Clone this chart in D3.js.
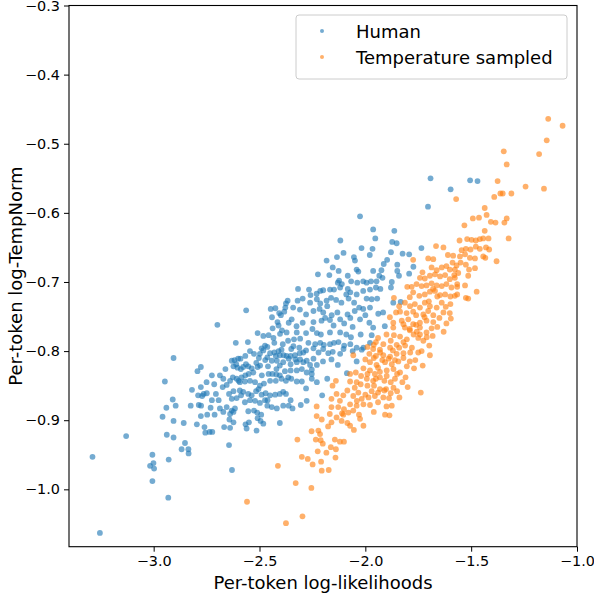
<html>
<head>
<meta charset="utf-8">
<script src="https://d3js.org/d3.v7.min.js"></script>
<style>
  body { margin: 0; background: #fff; }
  text { font-family: "DejaVu Sans", sans-serif; }
</style>
</head>
<body>
<script type="text/javascript">
    ////////////////// data //////////////////
    // [per-token log-likelihood, per-token log-TempNorm]
    var human = [
        [-2.906,-0.810],[-2.947,-0.844],[-2.910,-0.870],[-2.940,-0.882],[-2.896,-0.879],[-2.958,-0.895],
        [-2.906,-0.901],[-2.938,-0.921],[-2.906,-0.925],[-3.130,-0.923],[-3.289,-0.953],[-3.006,-0.950],
        [-3.001,-0.962],[-3.017,-0.966],[-2.998,-0.970],[-2.929,-0.957],[-3.006,-0.988],[-2.931,-1.012],
        [-3.254,-1.063],[-2.630,-0.972],
        [-2.563,-0.741],[-2.699,-0.762],[-2.447,-0.739],[-2.425,-0.738],[-2.407,-0.745],[-2.383,-0.743],
        [-2.367,-0.727],[-2.375,-0.731],[-2.378,-0.737],[-2.441,-0.751],[-2.415,-0.758],[-2.399,-0.748],
        [-2.438,-0.767],[-2.410,-0.763],[-2.362,-0.759],[-2.509,-0.774],[-2.482,-0.778],[-2.457,-0.777],
        [-2.434,-0.781],[-2.403,-0.775],[-2.394,-0.770],[-2.372,-0.773],[-2.365,-0.785],[-2.612,-0.788],
        [-2.555,-0.787],[-2.490,-0.796],[-2.474,-0.792],[-2.463,-0.794],[-2.482,-0.799],[-2.498,-0.804],
        [-2.526,-0.804],[-2.545,-0.800],[-2.567,-0.807],[-2.590,-0.811],[-2.601,-0.811],[-2.618,-0.813],
        [-2.631,-0.814],[-2.450,-0.803],[-2.430,-0.802],[-2.410,-0.800],[-2.396,-0.798],[-2.404,-0.806],
        [-2.423,-0.807],[-2.386,-0.806],[-2.372,-0.807],[-2.362,-0.811],[-2.388,-0.816],[-2.404,-0.821],
        [-2.418,-0.814],[-2.442,-0.814],[-2.463,-0.809],[-2.473,-0.813],[-2.503,-0.810],[-2.515,-0.817],
        [-2.497,-0.821],[-2.509,-0.823],[-2.537,-0.825],[-2.553,-0.822],[-2.564,-0.819],[-2.577,-0.823],
        [-2.588,-0.826],[-2.604,-0.824],[-2.610,-0.819],[-2.623,-0.822],[-2.661,-0.826],[-2.687,-0.835],
        [-2.725,-0.835],[-2.777,-0.823],[-2.793,-0.829],[-2.529,-0.831],[-2.551,-0.833],[-2.567,-0.835],
        [-2.585,-0.838],[-2.608,-0.840],[-2.626,-0.838],[-2.639,-0.843],[-2.671,-0.840],[-2.655,-0.849],
        [-2.674,-0.852],[-2.714,-0.848],[-2.750,-0.845],[-2.489,-0.835],[-2.457,-0.833],[-2.439,-0.833],
        [-2.420,-0.834],[-2.404,-0.835],[-2.396,-0.840],[-2.423,-0.843],[-2.450,-0.843],[-2.479,-0.847],
        [-2.498,-0.850],[-2.521,-0.845],[-2.545,-0.843],[-2.569,-0.844],[-2.593,-0.845],[-2.599,-0.843],
        [-2.364,-0.838],[-2.375,-0.843],[-2.777,-0.852],[-2.819,-0.856],[-2.764,-0.862],[-2.790,-0.864],
        [-2.771,-0.865],[-2.749,-0.861],[-2.706,-0.862],[-2.693,-0.871],[-2.725,-0.871],[-2.644,-0.862],
        [-2.623,-0.858],[-2.593,-0.857],[-2.577,-0.859],[-2.587,-0.864],[-2.608,-0.868],[-2.631,-0.869],
        [-2.553,-0.862],[-2.537,-0.864],[-2.516,-0.858],[-2.505,-0.855],[-2.490,-0.863],[-2.471,-0.861],
        [-2.462,-0.871],[-2.450,-0.864],[-2.426,-0.863],[-2.404,-0.862],[-2.388,-0.859],[-2.375,-0.862],
        [-2.569,-0.874],[-2.545,-0.871],[-2.521,-0.872],[-2.498,-0.875],[-2.474,-0.871],[-2.463,-0.879],
        [-2.442,-0.881],[-2.418,-0.883],[-2.388,-0.879],[-2.362,-0.879],[-2.825,-0.879],[-2.787,-0.878],
        [-2.776,-0.879],[-2.731,-0.882],[-2.687,-0.883],[-2.655,-0.881],[-2.631,-0.886],[-2.616,-0.883],
        [-2.639,-0.891],[-2.623,-0.888],[-2.671,-0.888],[-2.712,-0.892],[-2.747,-0.892],[-2.553,-0.887],
        [-2.526,-0.886],[-2.511,-0.889],[-2.492,-0.892],[-2.509,-0.897],[-2.495,-0.901],[-2.404,-0.904],
        [-2.482,-0.905],[-2.550,-0.903],[-2.566,-0.906],[-2.623,-0.903],[-2.642,-0.899],[-2.777,-0.894],
        [-2.796,-0.906],[-2.760,-0.910],[-2.736,-0.917],[-2.723,-0.917],[-2.756,-0.918],[-2.667,-0.910],
        [-2.639,-0.911],[-2.561,-0.912],[-2.514,-0.915],[-2.858,-0.904],[-2.852,-0.933],[-2.868,-0.942],
        [-2.836,-0.942],[-2.835,-0.948],[-2.644,-0.936],
        [-2.025,-0.605],[-1.963,-0.624],[-2.118,-0.640],[-1.953,-0.637],[-1.966,-0.652],[-2.018,-0.651],
        [-2.103,-0.658],[-2.134,-0.664],[-2.183,-0.669],[-2.054,-0.664],[-2.049,-0.669],[-1.979,-0.661],
        [-2.154,-0.679],[-2.126,-0.684],[-2.224,-0.689],[-2.170,-0.690],[-2.041,-0.682],[-2.033,-0.685],
        [-1.963,-0.684],[-2.083,-0.691],[-2.124,-0.698],[-2.130,-0.701],[-2.111,-0.703],[-2.067,-0.699],
        [-2.038,-0.701],[-2.010,-0.699],[-1.994,-0.701],[-1.973,-0.699],[-1.947,-0.699],[-1.934,-0.691],
        [-2.167,-0.711],[-2.199,-0.712],[-2.213,-0.713],[-2.266,-0.711],[-2.259,-0.719],[-2.318,-0.710],
        [-2.148,-0.711],[-2.119,-0.708],[-2.083,-0.710],[-2.071,-0.715],[-2.041,-0.718],[-2.010,-0.713],
        [-1.978,-0.711],[-1.950,-0.708],[-1.994,-0.724],[-1.970,-0.725],[-1.944,-0.724],[-2.296,-0.724],
        [-2.320,-0.727],[-2.341,-0.737],[-2.261,-0.730],[-2.229,-0.725],[-2.213,-0.731],[-2.183,-0.727],
        [-2.162,-0.723],[-2.138,-0.726],[-2.113,-0.730],[-2.079,-0.724],[-2.053,-0.730],[-2.029,-0.737],
        [-2.010,-0.739],[-1.978,-0.737],[-1.939,-0.746],[-2.309,-0.740],[-2.280,-0.747],[-2.245,-0.742],
        [-2.216,-0.739],[-2.199,-0.744],[-2.159,-0.748],[-2.132,-0.744],[-2.084,-0.747],[-2.071,-0.752],
        [-2.119,-0.754],[-2.167,-0.755],[-2.207,-0.756],[-2.245,-0.758],[-2.296,-0.759],[-2.325,-0.764],
        [-2.348,-0.754],[-2.025,-0.754],[-1.981,-0.759],[-1.963,-0.766],
        [-2.324,-0.773],[-2.280,-0.774],[-2.229,-0.774],[-2.210,-0.776],[-2.167,-0.773],[-2.119,-0.773],
        [-2.090,-0.776],[-2.068,-0.780],[-2.022,-0.776],[-1.970,-0.777],[-2.337,-0.783],[-2.308,-0.782],
        [-2.269,-0.788],[-2.237,-0.790],[-2.213,-0.788],[-2.196,-0.791],[-2.167,-0.790],[-2.148,-0.788],
        [-2.127,-0.787],[-2.100,-0.792],[-2.071,-0.790],[-2.041,-0.795],[-2.009,-0.795],[-1.978,-0.788],
        [-2.340,-0.793],[-2.312,-0.795],[-2.293,-0.802],[-2.245,-0.796],[-2.221,-0.802],[-2.199,-0.797],
        [-2.175,-0.803],[-2.154,-0.801],[-2.119,-0.804],[-2.103,-0.797],[-2.060,-0.800],[-2.041,-0.815],
        [-2.017,-0.798],[-2.353,-0.807],[-2.332,-0.806],[-2.308,-0.812],[-2.277,-0.814],[-2.245,-0.811],
        [-2.229,-0.820],[-2.261,-0.820],[-2.293,-0.816],[-2.324,-0.816],[-2.353,-0.819],[-2.353,-0.828],
        [-2.324,-0.828],[-2.300,-0.826],[-2.277,-0.831],[-2.253,-0.827],[-2.253,-0.833],[-2.350,-0.840],
        [-2.324,-0.844],[-2.300,-0.844],[-2.280,-0.854],[-2.253,-0.840],[-2.229,-0.845],[-2.180,-0.840],
        [-2.087,-0.832],[-2.204,-0.864],[-2.277,-0.872],[-2.305,-0.878],[-2.353,-0.871],[-2.344,-0.883],
        [-2.430,-0.788],[-2.390,-0.790],[-2.350,-0.797],[-2.310,-0.803],[-2.280,-0.799],[-2.460,-0.822],
        [-2.420,-0.826],[-2.380,-0.829],[-2.330,-0.812],[-2.200,-0.815],[-2.160,-0.812],[-2.130,-0.820],
        [-2.190,-0.752],[-2.150,-0.763],[-2.100,-0.760],[-2.060,-0.765],[-2.250,-0.768],[-2.050,-0.742],
        [-2.000,-0.748],[-2.180,-0.735],[-2.230,-0.717],[-2.090,-0.718],
        [-1.692,-0.550],[-1.505,-0.553],[-1.470,-0.554],[-1.597,-0.566],[-1.704,-0.591],[-1.863,-0.626],
        [-1.873,-0.642],[-1.852,-0.644],[-1.735,-0.651],[-1.879,-0.657],[-1.824,-0.659],[-1.793,-0.660],
        [-1.897,-0.668],[-1.913,-0.674],[-1.849,-0.675],[-1.773,-0.678],[-1.924,-0.683],[-1.849,-0.684],
        [-1.793,-0.688],[-1.841,-0.691],[-1.919,-0.694],[-1.875,-0.700],[-1.879,-0.708],[-1.929,-0.710],
        [-1.868,-0.730],[-1.833,-0.729],[-1.916,-0.744],[-1.908,-0.764]
    ];
    var tempSampled = [
        [-1.950,-0.787],[-1.915,-0.790],[-1.865,-0.777],[-1.836,-0.779],[-1.804,-0.783],[-1.772,-0.776],
        [-1.757,-0.772],[-1.812,-0.792],[-1.852,-0.791],[-1.883,-0.795],[-1.931,-0.798],[-1.963,-0.797],
        [-1.981,-0.804],[-1.950,-0.807],[-1.915,-0.806],[-1.883,-0.808],[-1.852,-0.804],[-1.820,-0.803],
        [-1.788,-0.802],[-1.764,-0.813],[-1.978,-0.816],[-1.947,-0.820],[-1.907,-0.816],[-1.875,-0.819],
        [-1.844,-0.815],[-1.804,-0.822],[-2.057,-0.806],[-2.045,-0.831],[-2.072,-0.833],[-2.009,-0.825],
        [-1.978,-0.828],[-1.955,-0.833],[-1.931,-0.830],[-1.899,-0.828],[-1.867,-0.826],[-1.836,-0.831],
        [-1.993,-0.840],[-1.963,-0.843],[-1.931,-0.838],[-1.899,-0.836],[-1.860,-0.840],[-1.825,-0.845],
        [-1.867,-0.853],[-1.902,-0.855],[-1.931,-0.855],[-1.959,-0.850],[-1.990,-0.850],[-2.022,-0.848],
        [-2.041,-0.845],[-2.072,-0.844],[-2.139,-0.843],[-2.155,-0.850],[-2.085,-0.857],[-2.104,-0.864],
        [-2.136,-0.862],[-2.160,-0.869],[-2.120,-0.872],[-2.057,-0.865],[-2.033,-0.860],[-2.017,-0.869],
        [-1.985,-0.867],[-1.955,-0.865],[-1.915,-0.867],[-1.888,-0.868],[-1.875,-0.879],[-1.839,-0.867],
        [-1.978,-0.878],[-2.009,-0.877],[-2.041,-0.879],[-2.072,-0.877],[-2.101,-0.884],[-2.128,-0.881],
        [-2.160,-0.881],[-2.230,-0.880],[-2.168,-0.891],[-2.136,-0.896],[-2.104,-0.892],[-2.080,-0.889],
        [-2.057,-0.886],[-2.025,-0.898],[-2.009,-0.908],[-2.072,-0.908],[-2.085,-0.904],[-2.112,-0.901],
        [-2.160,-0.903],[-2.176,-0.909],[-2.206,-0.899],[-2.230,-0.894],[-1.907,-0.892],[-1.886,-0.893],
        [-2.054,-0.914],[-2.254,-0.916],[-2.222,-0.915],[-2.214,-0.920],[-2.211,-0.929],[-2.201,-0.934],
        [-2.234,-0.928],[-2.321,-0.928],[-2.144,-0.928],[-2.120,-0.931],[-2.101,-0.931],[-2.163,-0.939],
        [-2.139,-0.942],[-2.225,-0.945],[-2.184,-0.947],[-2.141,-0.954],[-2.300,-0.953],[-2.272,-0.956],
        [-2.249,-0.964],[-2.209,-0.960],[-2.206,-0.973],[-2.173,-0.972],[-2.329,-0.991],[-2.255,-0.998],
        [-2.297,-1.039],[-2.413,-0.966],[-2.559,-1.018],[-2.375,-1.049],[-1.738,-0.860],
        [-1.940,-0.781],[-1.900,-0.776],[-1.880,-0.785],[-1.790,-0.770],[-1.750,-0.781],[-1.820,-0.787],
        [-1.960,-0.791],[-1.990,-0.794],[-1.870,-0.799],[-1.840,-0.795],[-1.780,-0.795],[-1.750,-0.802],
        [-1.930,-0.802],[-2.000,-0.812],[-1.960,-0.810],[-1.920,-0.813],[-1.890,-0.811],[-1.860,-0.813],
        [-1.820,-0.810],[-1.790,-0.815],[-1.770,-0.825],[-1.940,-0.824],[-2.020,-0.836],[-1.990,-0.833],
        [-1.950,-0.840],[-1.910,-0.843],[-1.880,-0.845],[-1.850,-0.833],[-1.810,-0.838],[-1.800,-0.852],
        [-2.050,-0.853],[-1.970,-0.858],[-1.940,-0.860],[-1.910,-0.857],[-1.880,-0.861],[-1.850,-0.858],
        [-2.000,-0.863],[-1.940,-0.874],[-1.900,-0.880],[-2.040,-0.872],[-2.110,-0.890],[-1.960,-0.888],
        [-2.030,-0.892],[-1.790,-0.722],[-1.760,-0.748],[-1.840,-0.735],[-1.820,-0.761],[-1.790,-0.768],
        [-1.720,-0.751],[-1.700,-0.728],[-1.660,-0.721],[-1.650,-0.752],[-1.620,-0.736],[-1.580,-0.690],
        [-1.550,-0.672],[-1.610,-0.661],[-1.730,-0.686],[-1.680,-0.710],[-1.760,-0.762],[-1.710,-0.780],
        [-1.660,-0.765],[-1.630,-0.772],
        [-1.332,-0.530],[-1.243,-0.562],[-1.375,-0.554],[-1.362,-0.572],[-1.351,-0.572],[-1.310,-0.572],
        [-1.391,-0.577],[-1.571,-0.580],[-1.436,-0.593],[-1.427,-0.603],[-1.492,-0.608],[-1.463,-0.607],
        [-1.407,-0.613],[-1.385,-0.614],[-1.332,-0.608],[-1.343,-0.614],[-1.532,-0.618],[-1.436,-0.626],
        [-1.555,-0.640],[-1.519,-0.638],[-1.498,-0.639],[-1.478,-0.640],[-1.459,-0.638],[-1.443,-0.637],
        [-1.418,-0.637],[-1.323,-0.637],[-1.666,-0.648],[-1.631,-0.650],[-1.545,-0.654],[-1.525,-0.652],
        [-1.503,-0.653],[-1.478,-0.649],[-1.459,-0.652],[-1.430,-0.650],[-1.415,-0.653],[-1.585,-0.662],
        [-1.553,-0.663],[-1.529,-0.660],[-1.506,-0.665],[-1.482,-0.666],[-1.443,-0.663],[-1.433,-0.665],
        [-1.380,-0.670],[-1.774,-0.668],[-1.703,-0.666],[-1.679,-0.667],[-1.588,-0.672],[-1.569,-0.676],
        [-1.525,-0.675],[-1.510,-0.682],[-1.482,-0.680],[-1.514,-0.691],[-1.474,-0.714],[-1.687,-0.679],
        [-1.663,-0.683],[-1.639,-0.679],[-1.617,-0.677],[-1.601,-0.682],[-1.577,-0.682],[-1.561,-0.687],
        [-1.742,-0.694],[-1.719,-0.695],[-1.695,-0.691],[-1.671,-0.689],[-1.647,-0.692],[-1.623,-0.690],
        [-1.601,-0.696],[-1.577,-0.694],[-1.566,-0.703],[-1.802,-0.707],[-1.781,-0.707],[-1.758,-0.703],
        [-1.734,-0.706],[-1.711,-0.705],[-1.687,-0.702],[-1.663,-0.705],[-1.639,-0.706],[-1.617,-0.703],
        [-1.593,-0.708],[-1.566,-0.707],[-1.529,-0.705],[-1.525,-0.723],[-1.514,-0.724],[-1.774,-0.715],
        [-1.745,-0.720],[-1.719,-0.718],[-1.695,-0.714],[-1.671,-0.713],[-1.647,-0.719],[-1.623,-0.718],
        [-1.598,-0.721],[-1.577,-0.720],[-1.566,-0.718],[-1.865,-0.723],[-1.813,-0.730],[-1.789,-0.735],
        [-1.766,-0.732],[-1.742,-0.737],[-1.719,-0.730],[-1.695,-0.735],[-1.663,-0.737],[-1.639,-0.730],
        [-1.598,-0.732],[-1.855,-0.744],[-1.836,-0.743],[-1.805,-0.745],[-1.774,-0.743],[-1.726,-0.747],
        [-1.703,-0.742],[-1.679,-0.748],[-1.631,-0.744],[-1.601,-0.745],[-1.884,-0.751],[-1.868,-0.759],
        [-1.828,-0.756],[-1.797,-0.754],[-1.774,-0.761],[-1.742,-0.759],[-1.711,-0.756],[-1.679,-0.758],
        [-1.617,-0.760],[-1.596,-0.753],[-1.868,-0.766],[-1.813,-0.766],[-1.742,-0.766],[-1.687,-0.767],
        [-1.742,-0.776],[-1.711,-0.773],[-1.682,-0.778],[-1.726,-0.785],[-1.698,-0.792],[-1.734,-0.800],
        [-1.695,-0.806],[-1.729,-0.821],
        [-1.136,-0.464],[-1.068,-0.474],[-1.143,-0.495],[-1.346,-0.511],[-1.179,-0.515],[-1.156,-0.565]
    ];
    var seriesNames = ["Human", "Temperature sampled"];
    var seriesColors = ["#1f77b4", "#ff7f0e"];
    var xTicks = [-3.0, -2.5, -2.0, -1.5, -1.0];
    var yTicks = [-1.0, -0.9, -0.8, -0.7, -0.6, -0.5, -0.4, -0.3];
    var xLabel = "Per-token log-likelihoods";
    var yLabel = "Per-token log-TempNorm";

    ////////////////// settings for chart //////////////////
    var svgWidth = 594;
    var svgHeight = 594;
    var plotLeft = 69, plotRight = 577, plotTop = 5.5, plotBottom = 546.7;

    var svg = d3.select("body")
        .append("svg")
        .attr("width", svgWidth)
        .attr("height", svgHeight);

    var x = d3.scaleLinear().domain([-3.4, -1.0]).range([plotLeft, plotRight]);
    var y = d3.scaleLinear().domain([-1.083, -0.3]).range([plotBottom, plotTop]);
    var fmt = d3.format(".1f");

    // points, human first so the sampled ones sit on top
    var sets = [human, tempSampled];
    sets.forEach(function (pts, k) {
        svg.append("g")
            .selectAll("circle")
            .data(pts)
            .enter()
            .append("circle")
            .attr("cx", d => x(d[0]))
            .attr("cy", d => y(d[1]))
            .attr("r", 2.9)
            .style("fill", seriesColors[k])
            .style("fill-opacity", 0.62);
    });

    // axes
    var xAxis = svg.append("g")
        .attr("transform", "translate(0," + plotBottom + ")")
        .call(d3.axisBottom(x).tickValues(xTicks).tickSize(5).tickPadding(4).tickFormat(fmt));
    var yAxis = svg.append("g")
        .attr("transform", "translate(" + plotLeft + ",0)")
        .call(d3.axisLeft(y).tickValues(yTicks).tickSize(5).tickPadding(4).tickFormat(fmt));
    [xAxis, yAxis].forEach(function (ax) {
        ax.select(".domain").remove();
        ax.selectAll("line").style("stroke", "#000").style("stroke-width", 1);
        ax.selectAll("text")
            .style("font-family", "DejaVu Sans")
            .style("font-size", "14.4px")
            .style("fill", "#000");
    });

    svg.append("rect")
        .attr("x", plotLeft)
        .attr("y", plotTop)
        .attr("width", plotRight - plotLeft)
        .attr("height", plotBottom - plotTop)
        .style("fill", "none")
        .style("stroke", "#000")
        .style("stroke-width", 1.1);

    // axis titles
    svg.append("text")
        .text(xLabel)
        .attr("x", (plotLeft + plotRight) / 2)
        .attr("y", 589)
        .style("text-anchor", "middle")
        .style("font-size", "18px");
    svg.append("text")
        .text(yLabel)
        .attr("transform", "translate(22," + (plotTop + plotBottom) / 2 + ") rotate(-90)")
        .style("text-anchor", "middle")
        .style("font-size", "18px");

    // legend
    var legend = svg.append("g").attr("class", "legend");
    legend.append("rect")
        .attr("x", 296)
        .attr("y", 15)
        .attr("width", 271)
        .attr("height", 64)
        .attr("rx", 3)
        .style("fill", "#fff")
        .style("fill-opacity", 0.8)
        .style("stroke", "#cccccc")
        .style("stroke-width", 1);
    seriesNames.forEach(function (name, i) {
        var cy = 31 + i * 26;
        legend.append("circle")
            .attr("cx", 322)
            .attr("cy", cy)
            .attr("r", 2)
            .style("fill", seriesColors[i])
            .style("fill-opacity", 0.62);
        legend.append("text")
            .text(name)
            .attr("x", 356)
            .attr("y", cy + 6.5)
            .style("font-size", "18px");
    });
</script>
</body>
</html>
